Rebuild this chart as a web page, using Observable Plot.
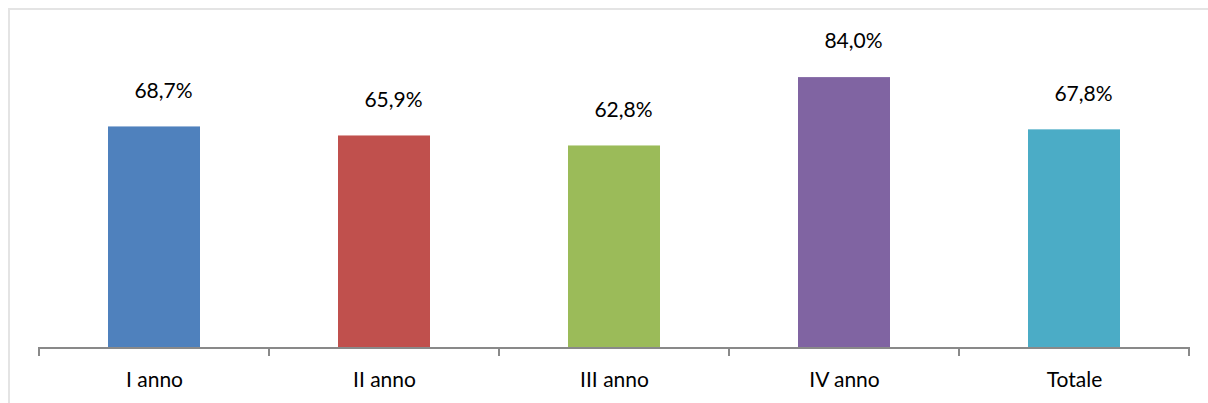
<!DOCTYPE html>
<html>
<head>
<meta charset="utf-8">
<script src="https://cdn.jsdelivr.net/npm/d3@7"></script>
<script src="https://cdn.jsdelivr.net/npm/@observablehq/plot@0.6"></script>
<style>
  html, body { margin: 0; padding: 0; background: #fff; }
  body { width: 1208px; height: 403px; overflow: hidden; position: relative; }
  #frame { position: absolute; left: 8px; top: 8px; width: 1300px; height: 500px;
           border-top: 2px solid #e4e4e4; border-left: 2px solid #e4e4e4; pointer-events: none; }
  #chart { position: absolute; left: 0; top: 0; }
</style>
</head>
<body>
<div id="chart"></div>
<div id="frame"></div>
<script>
const categories = ["I anno", "II anno", "III anno", "IV anno", "Totale"];
const values = [68.7, 65.9, 62.8, 84.0, 67.8];
const labels = ["68,7%", "65,9%", "62,8%", "84,0%", "67,8%"];
const colors = ["#4F81BD", "#C0504D", "#9BBB59", "#8064A2", "#4BACC6"];

const data = categories.map((c, i) => ({cat: c, value: values[i], label: labels[i]}));

function axisLine(index, scales) {
  const x = scales.x, y = scales.y;
  const step = x.step(), bw = x.bandwidth();
  const [r0, r1] = x.range();
  const y0 = y(0);
  const g = d3.create("svg:g").attr("stroke", "#898989").attr("stroke-width", 2).attr("fill", "none");
  g.append("line").attr("x1", r0).attr("x2", r1).attr("y1", y0).attr("y2", y0);
  const bounds = categories.map(c => x(c) + bw / 2 - step / 2);
  bounds.push(x(categories[categories.length - 1]) + bw / 2 + step / 2);
  for (const b of bounds) {
    g.append("line").attr("x1", b).attr("x2", b).attr("y1", y0 - 1).attr("y2", y0 + 8);
  }
  return g.node();
}

const plot = Plot.plot({
  width: 1208,
  height: 403,
  marginLeft: 38,
  marginRight: 18,
  marginTop: 25.5,
  marginBottom: 55,
  style: {fontFamily: "Lato, 'Open Sans', sans-serif", fontSize: "21px", color: "#000", background: "transparent"},
  x: {domain: categories, paddingInner: 0.6, paddingOuter: 0.3, label: null},
  y: {domain: [0, 100], axis: null},
  color: {domain: categories, range: colors},
  marks: [
    Plot.barY(data, {x: "cat", y: "value", fill: "cat"}),
    Plot.text(data, {x: "cat", y: "value", text: "label", dy: -36, dx: 9, fill: "#000", fontSize: 21}),
    axisLine,
    Plot.axisX({tickSize: 0, tickPadding: 24, fontSize: 21, label: null})
  ]
});
document.getElementById("chart").append(plot);
</script>
</body>
</html>
